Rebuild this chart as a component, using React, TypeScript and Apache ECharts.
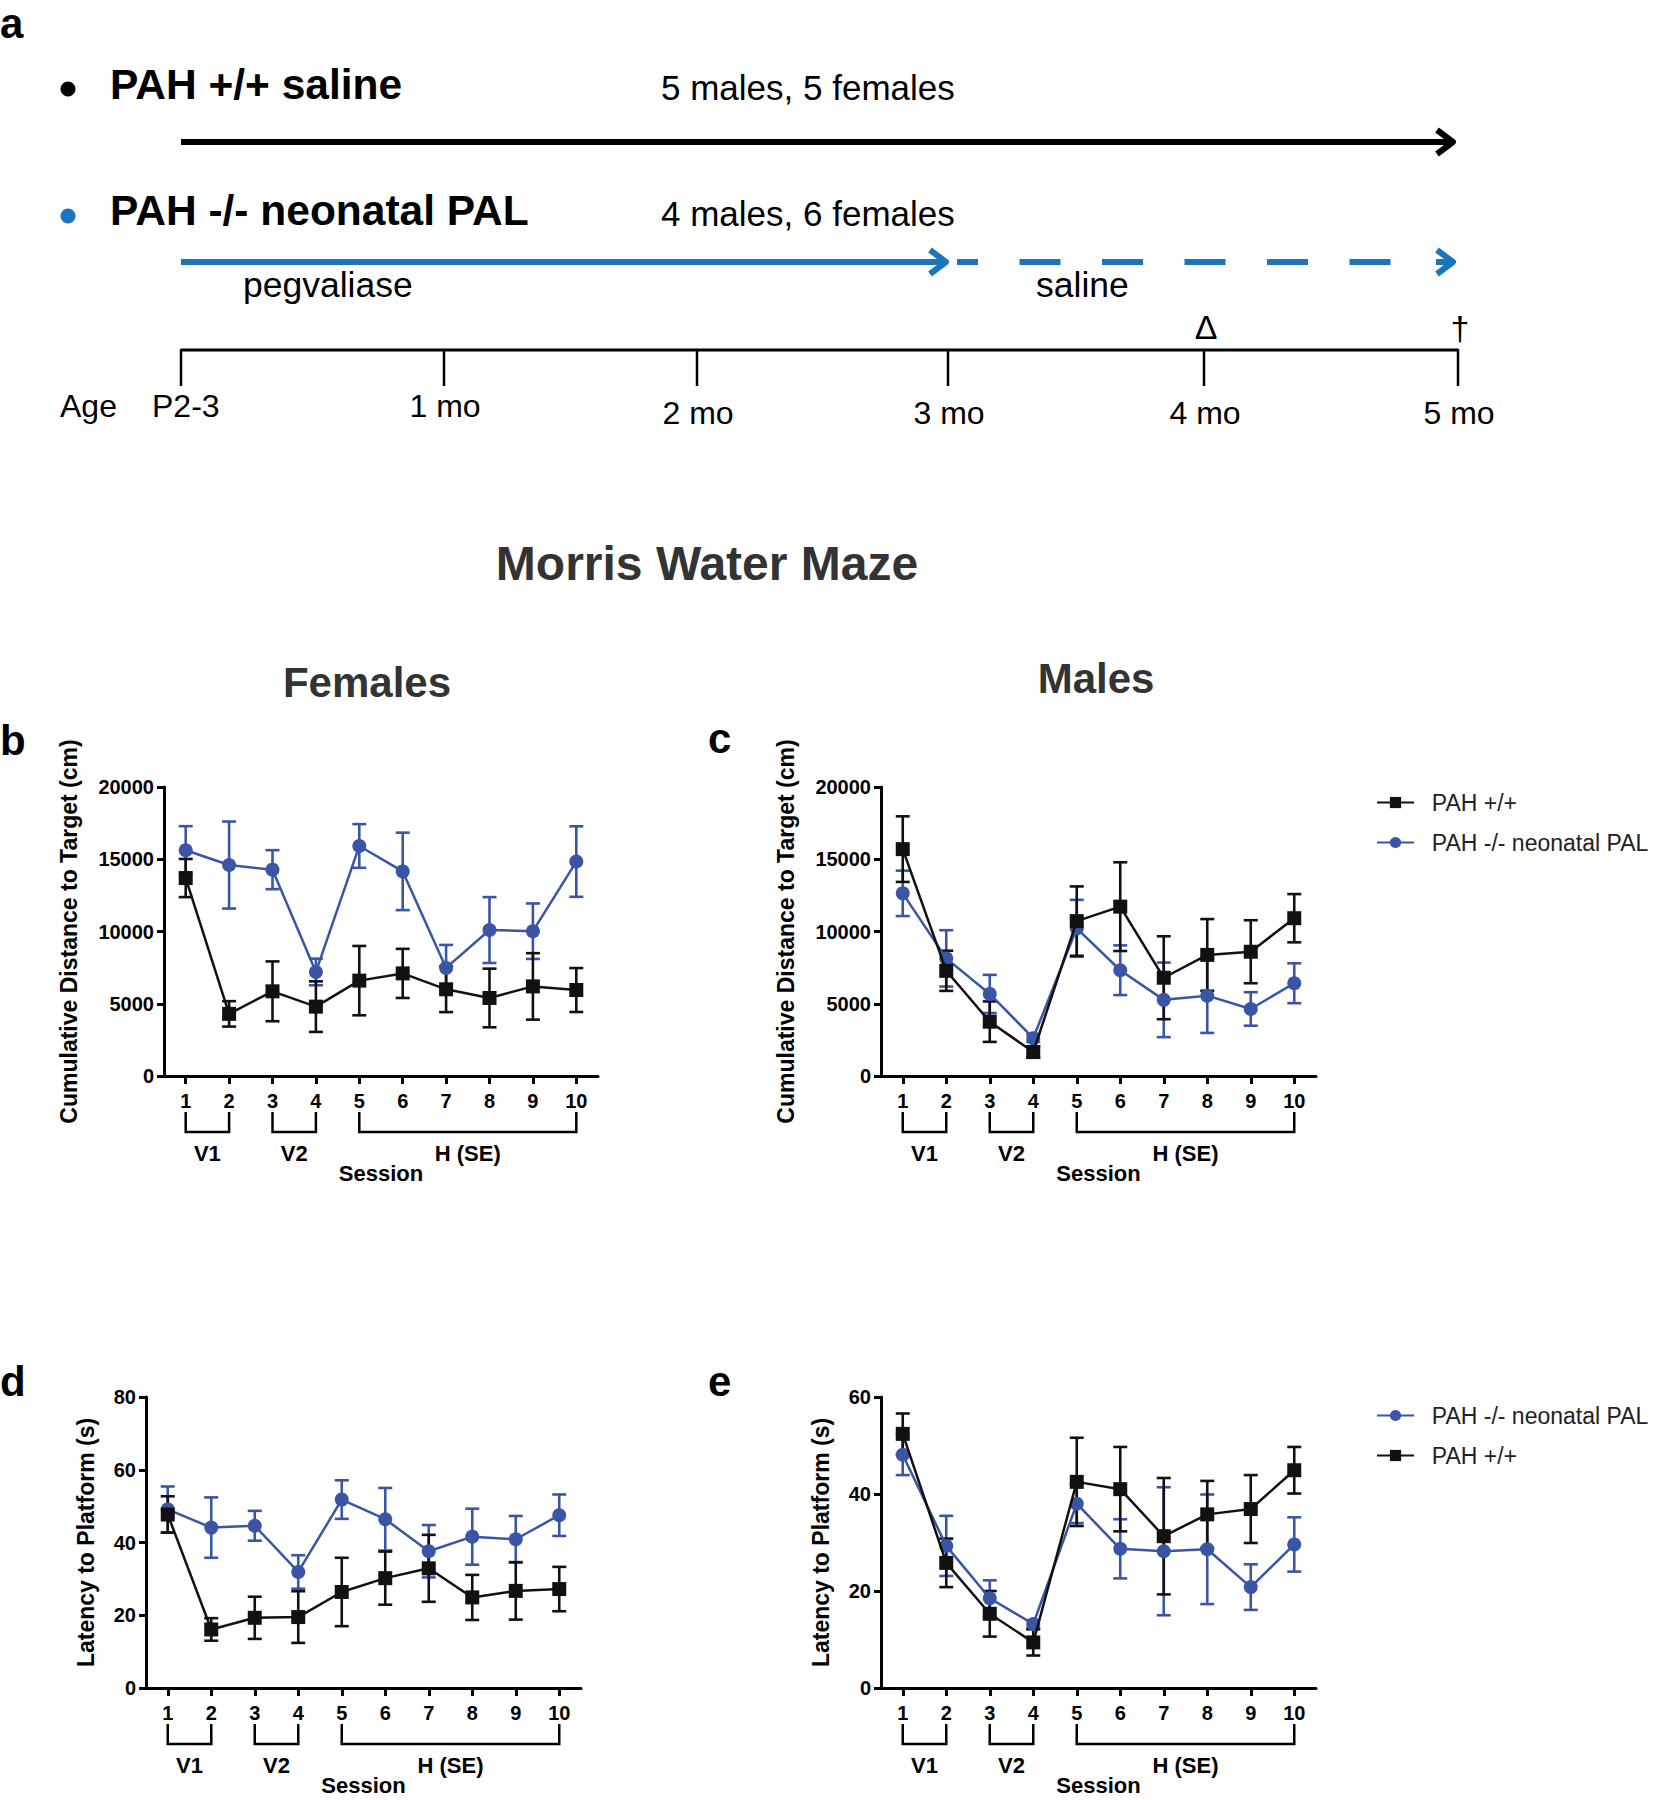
import React, { useEffect, useRef } from 'react';
import * as echarts from 'echarts';

// ---------- data ----------
const sessions = ['1', '2', '3', '4', '5', '6', '7', '8', '9', '10'];
const bracketStart = [0, 2, 4];
const bracketEnd = [1, 3, 9];
const bracketLabels = ['V1', 'V2', 'H (SE)'];
const nameWT = 'PAH +/+';
const nameKO = 'PAH -/- neonatal PAL';

// Females, cumulative distance to target (cm)
const fDistWT = [13700, 4300, 5860, 4800, 6600, 7100, 6000, 5400, 6200, 5950];
const fDistWTSem = [1320, 880, 2070, 1750, 2400, 1700, 1580, 2030, 2300, 1520];
const fDistKO = [15620, 14600, 14280, 7200, 15920, 14160, 7480, 10100, 10020, 14840];
const fDistKOSem = [1670, 3010, 1350, 920, 1510, 2680, 1590, 2280, 1920, 2440];

// Males, cumulative distance to target (cm)
const mDistWT = [15700, 7280, 3760, 1660, 10720, 11720, 6800, 8380, 8600, 10920];
const mDistWTSem = [2270, 1390, 1400, 400, 2400, 3070, 2870, 2480, 2180, 1670];
const mDistKO = [12640, 8140, 5680, 2620, 10220, 7320, 5270, 5560, 4640, 6420];
const mDistKOSem = [1570, 1950, 1320, 260, 1970, 1720, 2580, 2580, 1160, 1380];

// Females, latency to platform (s)
const fLatWT = [47.7, 16.1, 19.3, 19.5, 26.4, 30.2, 32.9, 24.9, 26.7, 27.2];
const fLatWTSem = [5.0, 3.1, 5.8, 7.1, 9.4, 7.3, 9.2, 6.2, 7.9, 6.1];
const fLatKO = [49.1, 44.1, 44.6, 31.9, 51.8, 46.4, 37.6, 41.6, 40.9, 47.5];
const fLatKOSem = [6.3, 8.3, 4.1, 4.6, 5.3, 8.6, 7.2, 7.7, 6.4, 5.7];

// Males, latency to platform (s)
const mLatWT = [52.4, 25.8, 15.3, 9.4, 42.5, 41.0, 31.3, 35.8, 36.9, 44.9];
const mLatWTSem = [4.2, 5.0, 4.7, 2.7, 9.1, 8.7, 12.0, 6.9, 7.0, 4.8];
const mLatKO = [48.1, 29.3, 18.5, 13.2, 38.0, 28.7, 28.2, 28.6, 20.8, 29.6];
const mLatKOSem = [4.2, 6.2, 3.7, 0.8, 4.0, 6.1, 13.2, 11.3, 4.7, 5.6];

// Timeline (panel a)
const ageLabels = ['P2-3', '1 mo', '2 mo', '3 mo', '4 mo', '5 mo'];

const FONT = '"Liberation Sans", Arial, Helvetica, sans-serif';
const BLACK = '#111111';
const BLUE = '#3a55a6';
const TL_BLUE = '#1b75bb';

const panels = [
  { grid: { left: 164, top: 787, width: 434, height: 289 }, max: 20000, interval: 5000, yName: 'Cumulative Distance to Target (cm)', nameGap: 84, wt: fDistWT, wtSem: fDistWTSem, ko: fDistKO, koSem: fDistKOSem },
  { grid: { left: 881, top: 787, width: 435, height: 289 }, max: 20000, interval: 5000, yName: 'Cumulative Distance to Target (cm)', nameGap: 84, wt: mDistWT, wtSem: mDistWTSem, ko: mDistKO, koSem: mDistKOSem },
  { grid: { left: 146, top: 1397, width: 435, height: 291 }, max: 80, interval: 20, yName: 'Latency to Platform (s)', nameGap: 49, wt: fLatWT, wtSem: fLatWTSem, ko: fLatKO, koSem: fLatKOSem },
  { grid: { left: 881, top: 1397, width: 435, height: 291 }, max: 60, interval: 20, yName: 'Latency to Platform (s)', nameGap: 49, wt: mLatWT, wtSem: mLatWTSem, ko: mLatKO, koSem: mLatKOSem },
];

function txt(text: string, x: number, y: number, font: string, fill: string, align = 'left', vAlign = 'middle') {
  return {
    type: 'text',
    x,
    y,
    style: { text, font, fill, align, verticalAlign: vAlign, textAlign: align, textVerticalAlign: vAlign },
    z: 10,
  };
}

function ln(x1: number, y1: number, x2: number, y2: number, stroke: string, lineWidth: number, extra: any = {}) {
  return { type: 'line', shape: { x1, y1, x2, y2 }, style: { stroke, lineWidth, ...extra } };
}

function chevron(x: number, y: number, stroke: string) {
  return {
    type: 'polyline',
    shape: { points: [[x - 16, y - 12], [x, y], [x - 16, y + 12]] },
    style: { stroke, lineWidth: 6, fill: null, lineJoin: 'round', lineCap: 'butt' },
  };
}

function errorSeries(idx: number, vals: number[], sem: number[], color: string) {
  return {
    type: 'custom',
    name: 'err' + idx + color,
    xAxisIndex: idx,
    yAxisIndex: idx,
    encode: { x: 0, y: [1, 2] },
    data: vals.map((v, i) => [i, v - sem[i], v + sem[i]]),
    z: 2,
    renderItem: (params: any, api: any) => {
      const x = api.value(0);
      const lo = api.coord([x, api.value(1)]);
      const hi = api.coord([x, api.value(2)]);
      const cw = 7;
      const st = { stroke: color, lineWidth: 2.6 };
      return {
        type: 'group',
        children: [
          { type: 'line', shape: { x1: lo[0], y1: lo[1], x2: hi[0], y2: hi[1] }, style: st },
          { type: 'line', shape: { x1: hi[0] - cw, y1: hi[1], x2: hi[0] + cw, y2: hi[1] }, style: st },
          { type: 'line', shape: { x1: lo[0] - cw, y1: lo[1], x2: lo[0] + cw, y2: lo[1] }, style: st },
        ],
      };
    },
  };
}

function bracketSeries(idx: number) {
  return {
    type: 'custom',
    name: 'brackets' + idx,
    xAxisIndex: idx,
    yAxisIndex: idx,
    encode: { x: 0, y: 2 },
    data: bracketStart.map((s, i) => [s, bracketEnd[i], 0]),
    clip: false,
    renderItem: (params: any, api: any) => {
      const a = api.coord([api.value(0), 0]);
      const b = api.coord([api.value(1), 0]);
      const y0 = a[1];
      const label = bracketLabels[params.dataIndex];
      return {
        type: 'group',
        children: [
          {
            type: 'polyline',
            shape: { points: [[a[0], y0 + 36], [a[0], y0 + 56], [b[0], y0 + 56], [b[0], y0 + 36]] },
            style: { stroke: '#000', lineWidth: 2.5, fill: null },
          },
          {
            type: 'text',
            style: {
              text: label, x: (a[0] + b[0]) / 2, y: y0 + 77,
              align: 'center', verticalAlign: 'middle', textAlign: 'center', textVerticalAlign: 'middle',
              font: 'bold 22px ' + FONT, fill: '#000',
            },
          },
        ],
      };
    },
  };
}

export default function App() {
  const ref = useRef<HTMLDivElement>(null);

  useEffect(() => {
    if (!ref.current) return;
    const chart = echarts.init(ref.current, undefined, { renderer: 'svg' });

    const grids = panels.map((p) => ({ ...p.grid, containLabel: false }));
    const xAxes = panels.map((p, i) => ({
      gridIndex: i,
      type: 'category',
      data: sessions,
      boundaryGap: true,
      axisLine: { show: true, lineStyle: { color: '#000', width: 3 } },
      axisTick: { show: true, alignWithLabel: true, length: 8, lineStyle: { color: '#000', width: 3 } },
      axisLabel: { color: '#000', fontWeight: 'bold', fontSize: 20, fontFamily: FONT, margin: 15 },
      splitLine: { show: false },
      name: 'Session',
      nameLocation: 'middle',
      nameGap: 86,
      nameTextStyle: { color: '#000', fontWeight: 'bold', fontSize: 22, fontFamily: FONT },
    }));
    const yAxes = panels.map((p, i) => ({
      gridIndex: i,
      type: 'value',
      min: 0,
      max: p.max,
      interval: p.interval,
      axisLine: { show: true, lineStyle: { color: '#000', width: 3 } },
      axisTick: { show: true, length: 7, lineStyle: { color: '#000', width: 3 } },
      axisLabel: {
        color: '#000', fontWeight: 'bold', fontSize: 20, fontFamily: FONT, margin: 10,
        formatter: (v: number) => String(v),
      },
      splitLine: { show: false },
      name: p.yName,
      nameLocation: 'middle',
      nameGap: p.nameGap,
      nameTextStyle: { color: '#000', fontWeight: 'bold', fontSize: 23, fontFamily: FONT },
    }));

    const series: any[] = [];
    panels.forEach((p, i) => {
      series.push(errorSeries(i, p.ko, p.koSem, BLUE));
      series.push(errorSeries(i, p.wt, p.wtSem, BLACK));
      series.push({
        type: 'line', name: nameKO, xAxisIndex: i, yAxisIndex: i, data: p.ko,
        symbol: 'circle', symbolSize: 14, z: 3,
        lineStyle: { color: BLUE, width: 2.5 }, itemStyle: { color: BLUE },
      });
      series.push({
        type: 'line', name: nameWT, xAxisIndex: i, yAxisIndex: i, data: p.wt,
        symbol: 'rect', symbolSize: 14, z: 4,
        lineStyle: { color: BLACK, width: 2.5 }, itemStyle: { color: BLACK },
      });
      series.push(bracketSeries(i));
    });

    const tickX = [181, 444, 697, 948, 1204, 1458];
    const labelY = [406, 406, 413, 413, 413, 413];
    const elements: any[] = [];
    // panel letters
    elements.push(txt('a', 0, 23, 'bold 42px ' + FONT, '#000'));
    elements.push(txt('b', 0, 740, 'bold 42px ' + FONT, '#000'));
    elements.push(txt('c', 708, 738, 'bold 42px ' + FONT, '#000'));
    elements.push(txt('d', 0, 1381, 'bold 42px ' + FONT, '#000'));
    elements.push(txt('e', 708, 1381, 'bold 42px ' + FONT, '#000'));
    // group headers
    elements.push({ type: 'circle', shape: { cx: 68, cy: 89, r: 7.5 }, style: { fill: '#000' } });
    elements.push(txt('PAH +/+ saline', 110, 84, 'bold 42.5px ' + FONT, '#000'));
    elements.push(txt('5 males, 5 females', 661, 87, '35px ' + FONT, '#000'));
    elements.push({ type: 'circle', shape: { cx: 68, cy: 216, r: 7.5 }, style: { fill: TL_BLUE } });
    elements.push(txt('PAH -/- neonatal PAL', 110, 210, 'bold 42.5px ' + FONT, '#000'));
    elements.push(txt('4 males, 6 females', 661, 213, '35px ' + FONT, '#000'));
    // arrows
    elements.push(ln(181, 142, 1450, 142, '#000', 6));
    elements.push(chevron(1453, 142, '#000'));
    elements.push(ln(181, 262, 942, 262, TL_BLUE, 6));
    elements.push(chevron(946, 262, TL_BLUE));
    elements.push(ln(957, 262, 1392, 262, TL_BLUE, 6, { lineDash: [41, 41.5], lineDashOffset: 20 }));
    elements.push(ln(1436, 262, 1450, 262, TL_BLUE, 6));
    elements.push(chevron(1453, 262, TL_BLUE));
    elements.push(txt('pegvaliase', 243, 285, '35.5px ' + FONT, '#000'));
    elements.push(txt('saline', 1036, 285, '35.5px ' + FONT, '#000'));
    // age axis
    elements.push(ln(181, 350, 1458, 350, '#000', 3));
    tickX.forEach((x, i) => {
      elements.push(ln(x, 349, x, 386, '#000', 2.5));
      if (i === 0) {
        elements.push(txt(ageLabels[i], 152, labelY[i], '32px ' + FONT, '#000'));
      } else {
        elements.push(txt(ageLabels[i], x + 1, labelY[i], '32px ' + FONT, '#000', 'center'));
      }
    });
    elements.push(txt('Age', 60, 406, '32px ' + FONT, '#000'));
    elements.push(txt('\u0394', 1206, 327, '34px ' + FONT, '#000', 'center'));
    elements.push(txt('\u2020', 1460, 328, '34px ' + FONT, '#000', 'center'));
    // titles
    elements.push(txt('Morris Water Maze', 707, 563, 'bold 48px ' + FONT, '#333', 'center'));
    elements.push(txt('Females', 367, 682, 'bold 42px ' + FONT, '#333', 'center'));
    elements.push(txt('Males', 1096, 678, 'bold 42px ' + FONT, '#333', 'center'));

    const legendCommon = {
      orient: 'vertical',
      left: 1376,
      padding: 0,
      itemWidth: 37,
      itemHeight: 14,
      itemGap: 17,
      formatter: (n: string) => '  ' + n,
      textStyle: { fontSize: 23, color: '#222', fontFamily: FONT },
    };

    chart.setOption({
      animation: false,
      backgroundColor: '#ffffff',
      grid: grids,
      xAxis: xAxes,
      yAxis: yAxes,
      legend: [
        { ...legendCommon, top: 791, data: [nameWT, nameKO] },
        { ...legendCommon, top: 1404, data: [nameKO, nameWT] },
      ],
      series,
      graphic: { elements },
    });

    return () => chart.dispose();
  }, []);

  return (
    <div
      ref={ref}
      style={{ position: 'absolute', left: 0, top: 0, width: 1657, height: 1800, background: '#fff' }}
    />
  );
}
